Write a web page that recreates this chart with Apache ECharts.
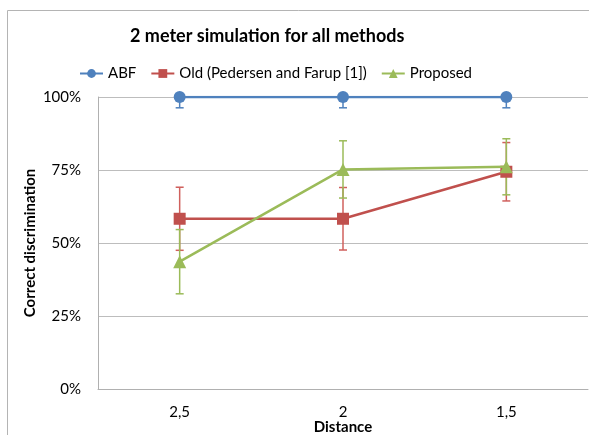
<!DOCTYPE html>
<html>
<head>
<meta charset="utf-8">
<script src="https://cdn.jsdelivr.net/npm/echarts@6/dist/echarts.min.js"></script>
<style>
  html, body { margin: 0; padding: 0; background: #fff; overflow: hidden; }
  #chart { width: 589px; height: 435px; }
</style>
</head>
<body>
<div id="chart"></div>
<script>
// 类别（距离）
const categories = ['2,5', '2', '1,5']
// 各方法的正确判别率 (%)
const abfValues = [100, 100, 100]
const oldValues = [58.3, 58.3, 74.4]
const proposedValues = [43.6, 75.2, 76.1]
// 误差棒（±%）
const abfErrors = [3.7, 3.7, 3.7]
const oldErrors = [10.8, 10.7, 10]
const proposedErrors = [11, 9.8, 9.6]
// y 轴刻度
const yTicks = [0, 25, 50, 75, 100]

const colors = ['#4F81BD', '#C0504D', '#9BBB59']
const font = 'Lato, "Open Sans", sans-serif'

// 误差棒数据：[类别下标, 下限, 上限]
function errData(values, errors) {
    return values.map((v, i) => [i, v - errors[i], v + errors[i]])
}

// 误差棒绘制
function errSeries(name, values, errors, color) {
    return {
        name: name,
        type: 'custom',
        clip: true,
        z: 1,
        data: errData(values, errors),
        renderItem: function (params, api) {
            const lo = api.coord([api.value(0), api.value(1)])
            const hi = api.coord([api.value(0), api.value(2)])
            const half = 4
            const style = { stroke: color, lineWidth: 1.5 }
            return {
                type: 'group',
                children: [
                    { type: 'line', shape: { x1: lo[0], y1: lo[1], x2: hi[0], y2: hi[1] }, style: style },
                    { type: 'line', shape: { x1: lo[0] - half, y1: lo[1], x2: lo[0] + half, y2: lo[1] }, style: style },
                    { type: 'line', shape: { x1: hi[0] - half, y1: hi[1], x2: hi[0] + half, y2: hi[1] }, style: style }
                ]
            }
        }
    }
}

const chart = echarts.init(document.getElementById('chart'))
chart.setOption({
    animation: false,
    color: colors,
    textStyle: { fontFamily: font },
    graphic: [{
        type: 'rect',
        shape: { x: 7.5, y: 10.5, width: 700, height: 700 },
        style: { fill: null, stroke: '#b4b4b4', lineWidth: 1 },
        silent: true
    }],
    title: {
        text: '2 meter simulation for all methods',
        left: 125,
        top: 22,
        textStyle: { fontFamily: font, fontSize: 18, fontWeight: 'bold', color: '#000' }
    },
    legend: {
        data: ['ABF', 'Old (Pedersen and Farup [1])', 'Proposed'],
        top: 61,
        left: 74,
        itemWidth: 23,
        itemHeight: 11,
        itemGap: 14,
        textStyle: { fontFamily: font, fontSize: 15, color: '#000' }
    },
    grid: { left: 98, right: 1, top: 97, bottom: 46, containLabel: false, outerBoundsMode: 'none' },
    xAxis: {
        type: 'category',
        data: categories,
        name: 'Distance',
        nameLocation: 'middle',
        nameGap: 31,
        nameMoveOverlap: false,
        nameTextStyle: { fontFamily: font, fontSize: 15, fontWeight: 'bold', color: '#000' },
        axisLine: { lineStyle: { color: '#b0b0b0' } },
        axisTick: { show: false },
        axisLabel: { fontFamily: font, fontSize: 15, color: '#000', margin: 16 }
    },
    yAxis: {
        type: 'value',
        min: yTicks[0],
        max: yTicks[yTicks.length - 1],
        interval: 25,
        name: 'Correct discrimination',
        nameLocation: 'middle',
        nameGap: 60,
        nameMoveOverlap: false,
        nameTextStyle: { fontFamily: font, fontSize: 15, fontWeight: 'bold', color: '#000' },
        axisLine: { show: true, lineStyle: { color: '#b0b0b0' } },
        axisTick: { show: false },
        splitLine: { lineStyle: { color: '#bdbdbd' } },
        axisLabel: { fontFamily: font, fontSize: 15, color: '#000', margin: 17, formatter: '{value}%' }
    },
    series: [
        errSeries('abfErr', abfValues, abfErrors, colors[0]),
        errSeries('oldErr', oldValues, oldErrors, '#D0605D'),
        errSeries('propErr', proposedValues, proposedErrors, colors[2]),
        {
            name: 'ABF',
            type: 'line',
            data: abfValues,
            symbol: 'circle',
            symbolSize: 12,
            lineStyle: { width: 2.5 },
            z: 3
        },
        {
            name: 'Old (Pedersen and Farup [1])',
            type: 'line',
            data: oldValues,
            symbol: 'rect',
            symbolSize: 12,
            lineStyle: { width: 2.5 },
            z: 3
        },
        {
            name: 'Proposed',
            type: 'line',
            data: proposedValues,
            symbol: 'triangle',
            symbolSize: 13,
            lineStyle: { width: 2.5 },
            z: 4
        }
    ]
})
</script>
</body>
</html>
